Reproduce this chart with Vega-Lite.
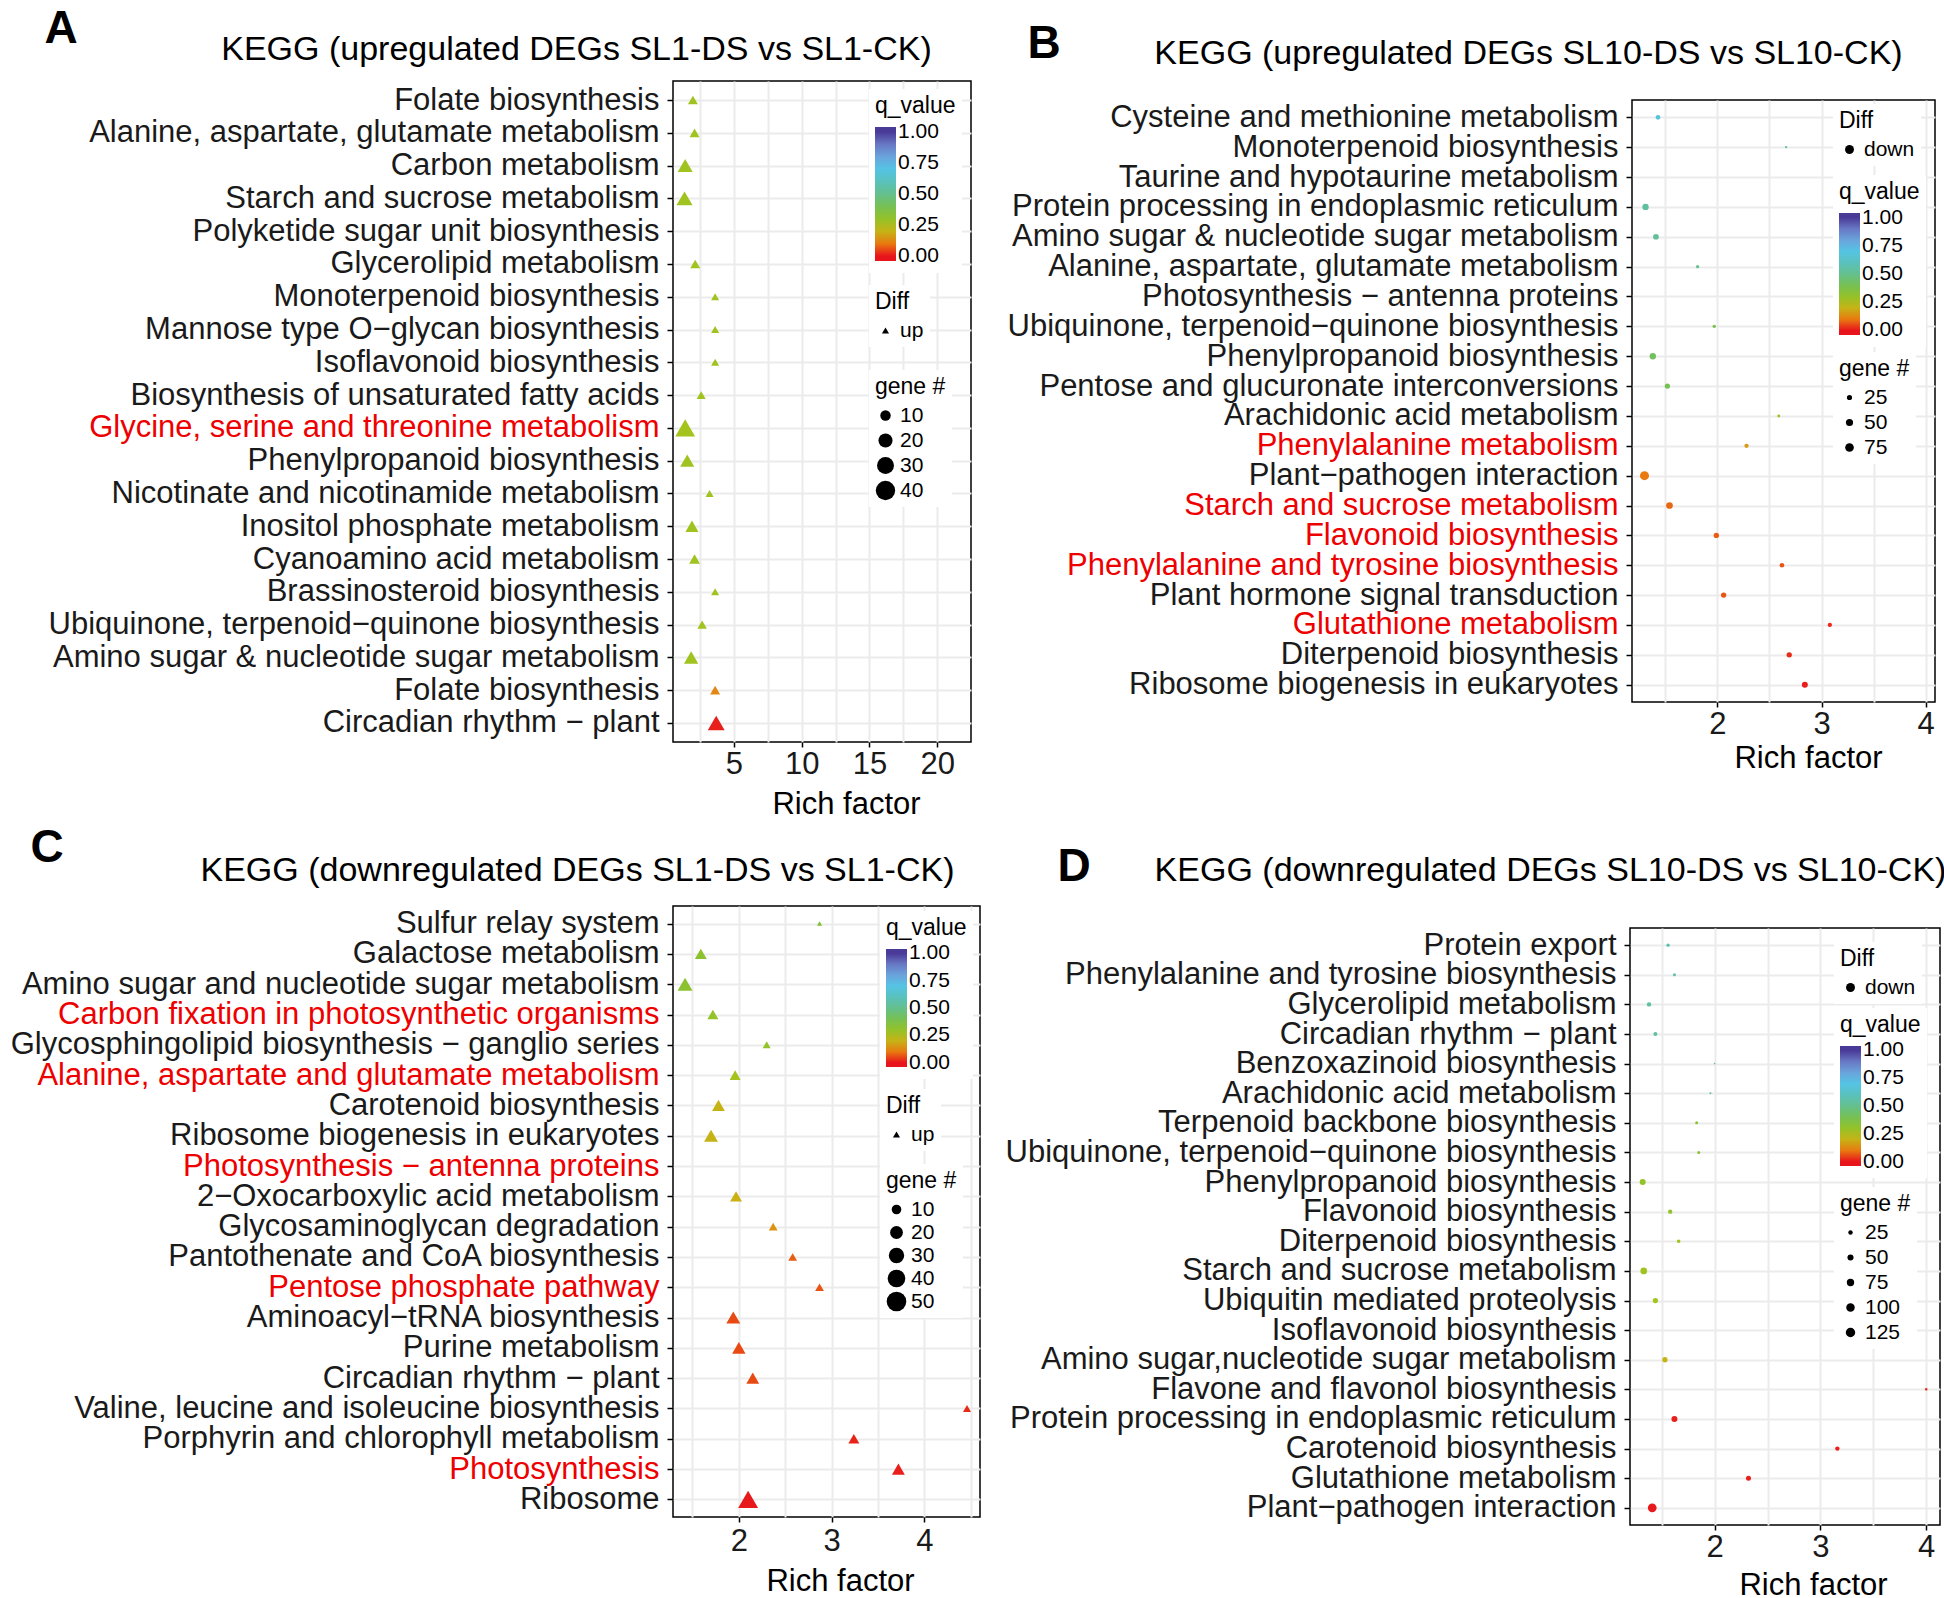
{
  "$schema": "https://vega.github.io/schema/vega-lite/v6.json",
  "background": "white",
  "padding": {"left": 2, "top": 0, "right": 0, "bottom": 0},
  "datasets": {
    "A": [
      {"pathway": "Folate biosynthesis", "rich": 1.97, "q": 0.27, "genes": 9, "diff": "up"},
      {"pathway": "Alanine, aspartate, glutamate metabolism", "rich": 2.09, "q": 0.27, "genes": 9, "diff": "up"},
      {"pathway": "Carbon metabolism", "rich": 1.40, "q": 0.27, "genes": 23, "diff": "up"},
      {"pathway": "Starch and sucrose metabolism", "rich": 1.35, "q": 0.27, "genes": 27, "diff": "up"},
      {"pathway": "Glycerolipid metabolism", "rich": 2.14, "q": 0.27, "genes": 9, "diff": "up"},
      {"pathway": "Monoterpenoid biosynthesis", "rich": 3.61, "q": 0.27, "genes": 5, "diff": "up"},
      {"pathway": "Mannose type O−glycan biosynthesis", "rich": 3.61, "q": 0.27, "genes": 5, "diff": "up"},
      {"pathway": "Isoflavonoid biosynthesis", "rich": 3.61, "q": 0.27, "genes": 5, "diff": "up"},
      {"pathway": "Biosynthesis of unsaturated fatty acids", "rich": 2.58, "q": 0.27, "genes": 7, "diff": "up"},
      {"pathway": "Glycine, serine and threonine metabolism", "rich": 1.40, "q": 0.26, "genes": 42, "diff": "up"},
      {"pathway": "Phenylpropanoid biosynthesis", "rich": 1.55, "q": 0.27, "genes": 20, "diff": "up"},
      {"pathway": "Nicotinate and nicotinamide metabolism", "rich": 3.2, "q": 0.27, "genes": 5, "diff": "up"},
      {"pathway": "Inositol phosphate metabolism", "rich": 1.90, "q": 0.27, "genes": 17, "diff": "up"},
      {"pathway": "Cyanoamino acid metabolism", "rich": 2.09, "q": 0.27, "genes": 11, "diff": "up"},
      {"pathway": "Brassinosteroid biosynthesis", "rich": 3.61, "q": 0.27, "genes": 5, "diff": "up"},
      {"pathway": "Ubiquinone, terpenoid−quinone biosynthesis", "rich": 2.65, "q": 0.27, "genes": 8, "diff": "up"},
      {"pathway": "Amino sugar & nucleotide sugar metabolism", "rich": 1.84, "q": 0.27, "genes": 21, "diff": "up"},
      {"pathway": "Folate biosynthesis ", "rich": 3.61, "q": 0.12, "genes": 9, "diff": "up"},
      {"pathway": "Circadian rhythm − plant", "rich": 3.69, "q": 0.01, "genes": 30, "diff": "up"}
    ],
    "B": [
      {"pathway": "Cysteine and methionine metabolism", "rich": 1.43, "q": 0.68, "genes": 20, "diff": "down"},
      {"pathway": "Monoterpenoid biosynthesis", "rich": 2.66, "q": 0.55, "genes": 3, "diff": "down"},
      {"pathway": "Taurine and hypotaurine metabolism", "rich": 3.97, "q": 0.55, "genes": 2, "diff": "down"},
      {"pathway": "Protein processing in endoplasmic reticulum", "rich": 1.31, "q": 0.53, "genes": 39, "diff": "down"},
      {"pathway": "Amino sugar & nucleotide sugar metabolism", "rich": 1.41, "q": 0.52, "genes": 31, "diff": "down"},
      {"pathway": "Alanine, aspartate, glutamate metabolism", "rich": 1.81, "q": 0.5, "genes": 9, "diff": "down"},
      {"pathway": "Ubiquinone, terpenoid−quinone biosynthesis", "rich": 1.97, "q": 0.38, "genes": 9, "diff": "down"},
      {"pathway": "Phenylpropanoid biosynthesis", "rich": 1.38, "q": 0.42, "genes": 39, "diff": "down"},
      {"pathway": "Pentose and glucuronate interconversions", "rich": 1.52, "q": 0.4, "genes": 27, "diff": "down"},
      {"pathway": "Arachidonic acid metabolism", "rich": 2.59, "q": 0.28, "genes": 7, "diff": "down"},
      {"pathway": "Phenylalanine metabolism", "rich": 2.28, "q": 0.15, "genes": 17, "diff": "down"},
      {"pathway": "Plant−pathogen interaction", "rich": 1.30, "q": 0.1, "genes": 81, "diff": "down"},
      {"pathway": "Starch and sucrose metabolism", "rich": 1.54, "q": 0.08, "genes": 44, "diff": "down"},
      {"pathway": "Flavonoid biosynthesis", "rich": 1.99, "q": 0.07, "genes": 27, "diff": "down"},
      {"pathway": "Phenylalanine and tyrosine biosynthesis", "rich": 2.62, "q": 0.06, "genes": 20, "diff": "down"},
      {"pathway": "Plant hormone signal transduction", "rich": 2.06, "q": 0.06, "genes": 27, "diff": "down"},
      {"pathway": "Glutathione metabolism", "rich": 3.08, "q": 0.02, "genes": 17, "diff": "down"},
      {"pathway": "Diterpenoid biosynthesis", "rich": 2.69, "q": 0.02, "genes": 27, "diff": "down"},
      {"pathway": "Ribosome biogenesis in eukaryotes", "rich": 2.84, "q": 0.01, "genes": 35, "diff": "down"}
    ],
    "C": [
      {"pathway": "Sulfur relay system", "rich": 2.87, "q": 0.35, "genes": 1, "diff": "up"},
      {"pathway": "Galactose metabolism", "rich": 1.59, "q": 0.32, "genes": 17, "diff": "up"},
      {"pathway": "Amino sugar and nucleotide sugar metabolism", "rich": 1.42, "q": 0.32, "genes": 28, "diff": "up"},
      {"pathway": "Carbon fixation in photosynthetic organisms", "rich": 1.72, "q": 0.3, "genes": 14, "diff": "up"},
      {"pathway": "Glycosphingolipid biosynthesis − ganglio series", "rich": 2.30, "q": 0.3, "genes": 6, "diff": "up"},
      {"pathway": "Alanine, aspartate and glutamate metabolism", "rich": 1.96, "q": 0.26, "genes": 14, "diff": "up"},
      {"pathway": "Carotenoid biosynthesis", "rich": 1.78, "q": 0.2, "genes": 20, "diff": "up"},
      {"pathway": "Ribosome biogenesis in eukaryotes", "rich": 1.70, "q": 0.2, "genes": 24, "diff": "up"},
      {"pathway": "Photosynthesis − antenna proteins", "rich": 3.58, "q": 0.2, "genes": 1, "diff": "up"},
      {"pathway": "2−Oxocarboxylic acid metabolism", "rich": 1.97, "q": 0.19, "genes": 17, "diff": "up"},
      {"pathway": "Glycosaminoglycan degradation", "rich": 2.37, "q": 0.14, "genes": 8, "diff": "up"},
      {"pathway": "Pantothenate and CoA biosynthesis", "rich": 2.58, "q": 0.07, "genes": 8, "diff": "up"},
      {"pathway": "Pentose phosphate pathway", "rich": 2.87, "q": 0.06, "genes": 8, "diff": "up"},
      {"pathway": "Aminoacyl−tRNA biosynthesis", "rich": 1.94, "q": 0.05, "genes": 24, "diff": "up"},
      {"pathway": "Purine metabolism", "rich": 2.00, "q": 0.05, "genes": 22, "diff": "up"},
      {"pathway": "Circadian rhythm − plant", "rich": 2.15, "q": 0.05, "genes": 20, "diff": "up"},
      {"pathway": "Valine, leucine and isoleucine biosynthesis", "rich": 4.46, "q": 0.02, "genes": 6, "diff": "up"},
      {"pathway": "Porphyrin and chlorophyll metabolism", "rich": 3.24, "q": 0.015, "genes": 14, "diff": "up"},
      {"pathway": "Photosynthesis", "rich": 3.72, "q": 0.01, "genes": 20, "diff": "up"},
      {"pathway": "Ribosome", "rich": 2.10, "q": 0.005, "genes": 52, "diff": "up"}
    ],
    "D": [
      {"pathway": "Protein export", "rich": 1.56, "q": 0.55, "genes": 13, "diff": "down"},
      {"pathway": "Phenylalanine and tyrosine biosynthesis", "rich": 1.62, "q": 0.55, "genes": 10, "diff": "down"},
      {"pathway": "Glycerolipid metabolism", "rich": 1.38, "q": 0.53, "genes": 24, "diff": "down"},
      {"pathway": "Circadian rhythm − plant", "rich": 1.44, "q": 0.53, "genes": 20, "diff": "down"},
      {"pathway": "Benzoxazinoid biosynthesis", "rich": 2.00, "q": 0.52, "genes": 1, "diff": "down"},
      {"pathway": "Arachidonic acid metabolism", "rich": 1.96, "q": 0.52, "genes": 3, "diff": "down"},
      {"pathway": "Terpenoid backbone biosynthesis", "rich": 1.83, "q": 0.33, "genes": 10, "diff": "down"},
      {"pathway": "Ubiquinone, terpenoid−quinone biosynthesis", "rich": 1.85, "q": 0.33, "genes": 10, "diff": "down"},
      {"pathway": "Phenylpropanoid biosynthesis", "rich": 1.32, "q": 0.3, "genes": 49, "diff": "down"},
      {"pathway": "Flavonoid biosynthesis", "rich": 1.58, "q": 0.3, "genes": 24, "diff": "down"},
      {"pathway": "Diterpenoid biosynthesis", "rich": 1.66, "q": 0.27, "genes": 16, "diff": "down"},
      {"pathway": "Starch and sucrose metabolism", "rich": 1.33, "q": 0.27, "genes": 61, "diff": "down"},
      {"pathway": "Ubiquitin mediated proteolysis", "rich": 1.44, "q": 0.26, "genes": 37, "diff": "down"},
      {"pathway": "Amino sugar,nucleotide sugar metabolism", "rich": 1.53, "q": 0.2, "genes": 37, "diff": "down"},
      {"pathway": "Flavone and flavonol biosynthesis", "rich": 4.00, "q": 0.02, "genes": 7, "diff": "down"},
      {"pathway": "Protein processing in endoplasmic reticulum", "rich": 1.62, "q": 0.01, "genes": 49, "diff": "down"},
      {"pathway": "Carotenoid biosynthesis", "rich": 3.16, "q": 0.01, "genes": 24, "diff": "down"},
      {"pathway": "Glutathione metabolism", "rich": 2.32, "q": 0.01, "genes": 33, "diff": "down"},
      {"pathway": "Plant−pathogen interaction", "rich": 1.41, "q": 0.005, "genes": 106, "diff": "down"}
    ]
  },
  "concat": [
    {"data": {"values": []}, "mark": {"type": "point", "opacity": 0}, "width": 1, "height": 1, "view": {"stroke": null}},
    {"data": {"values": []}, "mark": {"type": "point", "opacity": 0}, "width": 1, "height": 1, "view": {"stroke": null}},
    {
      "data": {"name": "A"},
      "width": 298,
      "height": 661,
      "layer": [
        {
          "mark": {"type": "point", "filled": true, "opacity": 1},
          "encoding": {
            "y": {
              "field": "pathway", "type": "nominal",
              "scale": {"type": "point", "padding": 0.58, "domain": ["Folate biosynthesis", "Alanine, aspartate, glutamate metabolism", "Carbon metabolism", "Starch and sucrose metabolism", "Polyketide sugar unit biosynthesis", "Glycerolipid metabolism", "Monoterpenoid biosynthesis", "Mannose type O−glycan biosynthesis", "Isoflavonoid biosynthesis", "Biosynthesis of unsaturated fatty acids", "Glycine, serine and threonine metabolism", "Phenylpropanoid biosynthesis", "Nicotinate and nicotinamide metabolism", "Inositol phosphate metabolism", "Cyanoamino acid metabolism", "Brassinosteroid biosynthesis", "Ubiquinone, terpenoid−quinone biosynthesis", "Amino sugar & nucleotide sugar metabolism", "Folate biosynthesis ", "Circadian rhythm − plant"]},
              "axis": {
                "title": "A", "titleX": -629, "titleY": -75, "titleAngle": 0, "titleAlign": "left", "titleBaseline": "top",
                "titleFontSize": 46, "titleFontWeight": "bold",
                "minExtent": 670, "maxExtent": 670,
                "labelFontSize": 31, "labelLimit": 1000, "labelPadding": 8, "labelOverlap": false, "tickSize": 6,
                "domain": false, "grid": true,
                "labelColor": {"condition": {"test": "indexof(['Glycine, serine and threonine metabolism'], datum.value) >= 0", "value": "#ee0000"}, "value": "#1a1a1a"}
              }
            },
            "x": {
              "field": "rich", "type": "quantitative",
              "scale": {"domain": [0.5, 22.5], "nice": false, "zero": false},
              "axis": {
                "title": "Rich factor", "titleX": 173, "titleY": 71, "titleAlign": "center", "titleBaseline": "alphabetic",
                "titleFontSize": 31, "titleFontWeight": "normal",
                "values": [2.5, 5, 7.5, 10, 12.5, 15, 17.5, 20],
                "labelExpr": "datum.value % 5 === 0 ? format(datum.value, 'd') : ''",
                "labelFontSize": 31, "labelFlush": false, "labelOverlap": false, "labelPadding": 2, "tickSize": 5,
                "tickColor": {"condition": {"test": "datum.value % 5 !== 0", "value": "transparent"}, "value": "black"},
                "domain": false, "grid": true
              }
            },
            "color": {
              "field": "q", "type": "quantitative",
              "scale": {"type": "linear", "domain": [-0.04, 0, 0.05, 0.1, 0.18, 0.25, 0.35, 0.45, 0.55, 0.7, 0.8, 0.9, 1, 1.04], "range": ["#e8141c", "#e8141c", "#e84a14", "#e87a10", "#d0ac14", "#a8c41a", "#80c038", "#6cc070", "#5cc0aa", "#55c4e4", "#6aa4dc", "#6878c4", "#4a3a98", "#4a3a98"], "interpolate": "rgb"},
              "legend": {"orient": "none", "legendX": 196, "legendY": 8, "title": "q_value", "direction": "vertical", "gradientLength": 134, "gradientThickness": 21, "values": [0, 0.25, 0.5, 0.75, 1], "format": ".2f", "padding": 6, "fillColor": "white", "titlePadding": 9}
            },
            "size": {
              "field": "genes", "type": "quantitative",
              "scale": {"domain": [0, 45], "range": [20, 420]},
              "legend": {"orient": "none", "legendX": 196, "legendY": 289, "title": "gene #", "values": [10, 20, 30, 40], "padding": 6, "fillColor": "white", "titlePadding": 6, "rowPadding": 3}
            },
            "shape": {
              "field": "diff", "type": "nominal",
              "scale": {"domain": ["up"], "range": ["triangle-up"]},
              "legend": {"orient": "none", "legendX": 196, "legendY": 204, "title": "Diff", "padding": 6, "fillColor": "white", "symbolSize": 50, "titlePadding": 6}
            }
          }
        },
        {
          "mark": {"type": "point", "opacity": 0},
          "encoding": {
            "x": {
              "field": "rich", "type": "quantitative",
              "scale": {"domain": [0.5, 22.5], "nice": false, "zero": false},
              "axis": {"orient": "top", "title": "KEGG (upregulated DEGs SL1-DS vs SL1-CK)", "titleX": -97, "titleY": -22, "titleAlign": "center", "titleBaseline": "alphabetic", "titleFontSize": 34, "titleFontWeight": "normal", "labels": false, "ticks": false, "domain": false, "grid": false}
            }
          }
        }
      ],
      "resolve": {"axis": {"x": "independent"}}
    },
    {
      "data": {"name": "B"},
      "width": 303,
      "height": 602,
      "layer": [
        {
          "mark": {"type": "point", "filled": true, "opacity": 1},
          "encoding": {
            "y": {
              "field": "pathway", "type": "nominal",
              "scale": {"type": "point", "padding": 0.58, "domain": ["Cysteine and methionine metabolism", "Monoterpenoid biosynthesis", "Taurine and hypotaurine metabolism", "Protein processing in endoplasmic reticulum", "Amino sugar & nucleotide sugar metabolism", "Alanine, aspartate, glutamate metabolism", "Photosynthesis − antenna proteins", "Ubiquinone, terpenoid−quinone biosynthesis", "Phenylpropanoid biosynthesis", "Pentose and glucuronate interconversions", "Arachidonic acid metabolism", "Phenylalanine metabolism", "Plant−pathogen interaction", "Starch and sucrose metabolism", "Flavonoid biosynthesis", "Phenylalanine and tyrosine biosynthesis", "Plant hormone signal transduction", "Glutathione metabolism", "Diterpenoid biosynthesis", "Ribosome biogenesis in eukaryotes"]},
              "axis": {
                "title": ["", "B"], "titleX": -605, "titleY": -94, "titleAngle": 0, "titleAlign": "left", "titleBaseline": "top", "titleLineHeight": 15,
                "titleFontSize": 46, "titleFontWeight": "bold",
                "minExtent": 640, "maxExtent": 640,
                "labelFontSize": 31, "labelLimit": 1000, "labelPadding": 8, "labelOverlap": false, "tickSize": 6,
                "domain": false, "grid": true,
                "labelColor": {"condition": {"test": "indexof(['Phenylalanine metabolism', 'Starch and sucrose metabolism', 'Flavonoid biosynthesis', 'Phenylalanine and tyrosine biosynthesis', 'Glutathione metabolism'], datum.value) >= 0", "value": "#ee0000"}, "value": "#1a1a1a"}
              }
            },
            "x": {
              "field": "rich", "type": "quantitative",
              "scale": {"domain": [1.18, 4.09], "nice": false, "zero": false},
              "axis": {
                "title": "Rich factor", "titleX": 176, "titleY": 65, "titleAlign": "center", "titleBaseline": "alphabetic",
                "titleFontSize": 31, "titleFontWeight": "normal",
                "values": [1.5, 2, 2.5, 3, 3.5, 4],
                "labelExpr": "datum.value % 1 === 0 ? format(datum.value, 'd') : ''",
                "labelFontSize": 31, "labelFlush": false, "labelOverlap": false, "labelPadding": 2, "tickSize": 5,
                "tickColor": {"condition": {"test": "datum.value % 1 !== 0", "value": "transparent"}, "value": "black"},
                "domain": false, "grid": true
              }
            },
            "color": {
              "field": "q", "type": "quantitative",
              "scale": {"type": "linear", "domain": [-0.04, 0, 0.05, 0.1, 0.18, 0.25, 0.35, 0.45, 0.55, 0.7, 0.8, 0.9, 1, 1.04], "range": ["#e8141c", "#e8141c", "#e84a14", "#e87a10", "#d0ac14", "#a8c41a", "#80c038", "#6cc070", "#5cc0aa", "#55c4e4", "#6aa4dc", "#6878c4", "#4a3a98", "#4a3a98"], "interpolate": "rgb"},
              "legend": {"orient": "none", "legendX": 201, "legendY": 75, "title": "q_value", "direction": "vertical", "gradientLength": 122, "gradientThickness": 21, "values": [0, 0.25, 0.5, 0.75, 1], "format": ".2f", "padding": 6, "fillColor": "white", "titlePadding": 9}
            },
            "size": {
              "field": "genes", "type": "quantitative",
              "scale": {"domain": [0, 100], "range": [2, 100]},
              "legend": {"orient": "none", "legendX": 201, "legendY": 252, "title": "gene #", "values": [25, 50, 75], "padding": 6, "fillColor": "white", "titlePadding": 6, "rowPadding": 3}
            },
            "shape": {
              "field": "diff", "type": "nominal",
              "scale": {"domain": ["down"], "range": ["circle"]},
              "legend": {"orient": "none", "legendX": 201, "legendY": 4, "title": "Diff", "padding": 6, "fillColor": "white", "symbolSize": 80, "titlePadding": 6}
            }
          }
        },
        {
          "mark": {"type": "point", "opacity": 0},
          "encoding": {
            "x": {
              "field": "rich", "type": "quantitative",
              "scale": {"domain": [1.18, 4.09], "nice": false, "zero": false},
              "axis": {"orient": "top", "title": "KEGG (upregulated DEGs SL10-DS vs SL10-CK)", "titleX": -104, "titleY": -37, "titleAlign": "center", "titleBaseline": "alphabetic", "titleFontSize": 34, "titleFontWeight": "normal", "labels": false, "ticks": false, "domain": false, "grid": false}
            }
          }
        }
      ],
      "resolve": {"axis": {"x": "independent"}}
    },
    {
      "data": {"name": "C"},
      "width": 307,
      "height": 611,
      "layer": [
        {
          "mark": {"type": "point", "filled": true, "opacity": 1},
          "encoding": {
            "y": {
              "field": "pathway", "type": "nominal",
              "scale": {"type": "point", "padding": 0.58, "domain": ["Sulfur relay system", "Galactose metabolism", "Amino sugar and nucleotide sugar metabolism", "Carbon fixation in photosynthetic organisms", "Glycosphingolipid biosynthesis − ganglio series", "Alanine, aspartate and glutamate metabolism", "Carotenoid biosynthesis", "Ribosome biogenesis in eukaryotes", "Photosynthesis − antenna proteins", "2−Oxocarboxylic acid metabolism", "Glycosaminoglycan degradation", "Pantothenate and CoA biosynthesis", "Pentose phosphate pathway", "Aminoacyl−tRNA biosynthesis", "Purine metabolism", "Circadian rhythm − plant", "Valine, leucine and isoleucine biosynthesis", "Porphyrin and chlorophyll metabolism", "Photosynthesis", "Ribosome"]},
              "axis": {
                "title": "C", "titleX": -643, "titleY": -81, "titleAngle": 0, "titleAlign": "left", "titleBaseline": "top",
                "titleFontSize": 46, "titleFontWeight": "bold",
                "minExtent": 668, "maxExtent": 668,
                "labelFontSize": 31, "labelLimit": 1000, "labelPadding": 8, "labelOverlap": false, "tickSize": 6,
                "domain": false, "grid": true,
                "labelColor": {"condition": {"test": "indexof(['Carbon fixation in photosynthetic organisms', 'Alanine, aspartate and glutamate metabolism', 'Photosynthesis − antenna proteins', 'Pentose phosphate pathway', 'Photosynthesis'], datum.value) >= 0", "value": "#ee0000"}, "value": "#1a1a1a"}
              }
            },
            "x": {
              "field": "rich", "type": "quantitative",
              "scale": {"domain": [1.29, 4.6], "nice": false, "zero": false},
              "axis": {
                "title": "Rich factor", "titleX": 167, "titleY": 73, "titleAlign": "center", "titleBaseline": "alphabetic",
                "titleFontSize": 31, "titleFontWeight": "normal",
                "values": [1.5, 2, 2.5, 3, 3.5, 4, 4.5],
                "labelExpr": "datum.value % 1 === 0 ? format(datum.value, 'd') : ''",
                "labelFontSize": 31, "labelFlush": false, "labelOverlap": false, "labelPadding": 4, "tickSize": 5,
                "tickColor": {"condition": {"test": "datum.value % 1 !== 0", "value": "transparent"}, "value": "black"},
                "domain": false, "grid": true
              }
            },
            "color": {
              "field": "q", "type": "quantitative",
              "scale": {"type": "linear", "domain": [-0.04, 0, 0.05, 0.1, 0.18, 0.25, 0.35, 0.45, 0.55, 0.7, 0.8, 0.9, 1, 1.04], "range": ["#e8141c", "#e8141c", "#e84a14", "#e87a10", "#d0ac14", "#a8c41a", "#80c038", "#6cc070", "#5cc0aa", "#55c4e4", "#6aa4dc", "#6878c4", "#4a3a98", "#4a3a98"], "interpolate": "rgb"},
              "legend": {"orient": "none", "legendX": 207, "legendY": 5, "title": "q_value", "direction": "vertical", "gradientLength": 118, "gradientThickness": 21, "values": [0, 0.25, 0.5, 0.75, 1], "format": ".2f", "padding": 6, "fillColor": "white", "titlePadding": 9}
            },
            "size": {
              "field": "genes", "type": "quantitative",
              "scale": {"domain": [0, 55], "range": [20, 420]},
              "legend": {"orient": "none", "legendX": 207, "legendY": 258, "title": "gene #", "values": [10, 20, 30, 40, 50], "padding": 6, "fillColor": "white", "titlePadding": 6, "rowPadding": 1}
            },
            "shape": {
              "field": "diff", "type": "nominal",
              "scale": {"domain": ["up"], "range": ["triangle-up"]},
              "legend": {"orient": "none", "legendX": 207, "legendY": 183, "title": "Diff", "padding": 6, "fillColor": "white", "symbolSize": 50, "titlePadding": 6}
            }
          }
        },
        {
          "mark": {"type": "point", "opacity": 0},
          "encoding": {
            "x": {
              "field": "rich", "type": "quantitative",
              "scale": {"domain": [1.29, 4.6], "nice": false, "zero": false},
              "axis": {"orient": "top", "title": "KEGG (downregulated DEGs SL1-DS vs SL1-CK)", "titleX": -96, "titleY": -26, "titleAlign": "center", "titleBaseline": "alphabetic", "titleFontSize": 34, "titleFontWeight": "normal", "labels": false, "ticks": false, "domain": false, "grid": false}
            }
          }
        }
      ],
      "resolve": {"axis": {"x": "independent"}}
    },
    {
      "data": {"name": "D"},
      "width": 310,
      "height": 597,
      "layer": [
        {
          "mark": {"type": "point", "filled": true, "opacity": 1},
          "encoding": {
            "y": {
              "field": "pathway", "type": "nominal",
              "scale": {"type": "point", "padding": 0.58, "domain": ["Protein export", "Phenylalanine and tyrosine biosynthesis", "Glycerolipid metabolism", "Circadian rhythm − plant", "Benzoxazinoid biosynthesis", "Arachidonic acid metabolism", "Terpenoid backbone biosynthesis", "Ubiquinone, terpenoid−quinone biosynthesis", "Phenylpropanoid biosynthesis", "Flavonoid biosynthesis", "Diterpenoid biosynthesis", "Starch and sucrose metabolism", "Ubiquitin mediated proteolysis", "Isoflavonoid biosynthesis", "Amino sugar,nucleotide sugar metabolism", "Flavone and flavonol biosynthesis", "Protein processing in endoplasmic reticulum", "Carotenoid biosynthesis", "Glutathione metabolism", "Plant−pathogen interaction"]},
              "axis": {
                "title": "D", "titleX": -573, "titleY": -84, "titleAngle": 0, "titleAlign": "left", "titleBaseline": "top",
                "titleFontSize": 46, "titleFontWeight": "bold",
                "minExtent": 638, "maxExtent": 638,
                "labelFontSize": 31, "labelLimit": 1000, "labelPadding": 8, "labelOverlap": false, "tickSize": 6,
                "domain": false, "grid": true,
                "labelColor": "#1a1a1a"
              }
            },
            "x": {
              "field": "rich", "type": "quantitative",
              "scale": {"domain": [1.2, 4.13], "nice": false, "zero": false},
              "axis": {
                "title": "Rich factor", "titleX": 183, "titleY": 69, "titleAlign": "center", "titleBaseline": "alphabetic",
                "titleFontSize": 31, "titleFontWeight": "normal",
                "values": [1.5, 2, 2.5, 3, 3.5, 4],
                "labelExpr": "datum.value % 1 === 0 ? format(datum.value, 'd') : ''",
                "labelFontSize": 31, "labelFlush": false, "labelOverlap": false, "labelPadding": 2, "tickSize": 5,
                "tickColor": {"condition": {"test": "datum.value % 1 !== 0", "value": "transparent"}, "value": "black"},
                "domain": false, "grid": true
              }
            },
            "color": {
              "field": "q", "type": "quantitative",
              "scale": {"type": "linear", "domain": [-0.04, 0, 0.05, 0.1, 0.18, 0.25, 0.35, 0.45, 0.55, 0.7, 0.8, 0.9, 1, 1.04], "range": ["#e8141c", "#e8141c", "#e84a14", "#e87a10", "#d0ac14", "#a8c41a", "#80c038", "#6cc070", "#5cc0aa", "#55c4e4", "#6aa4dc", "#6878c4", "#4a3a98", "#4a3a98"], "interpolate": "rgb"},
              "legend": {"orient": "none", "legendX": 204, "legendY": 80, "title": "q_value", "direction": "vertical", "gradientLength": 120, "gradientThickness": 21, "values": [0, 0.25, 0.5, 0.75, 1], "format": ".2f", "padding": 6, "fillColor": "white", "titlePadding": 9}
            },
            "size": {
              "field": "genes", "type": "quantitative",
              "scale": {"domain": [0, 140], "range": [2, 100]},
              "legend": {"orient": "none", "legendX": 204, "legendY": 259, "title": "gene #", "values": [25, 50, 75, 100, 125], "padding": 6, "fillColor": "white", "titlePadding": 6, "rowPadding": 3}
            },
            "shape": {
              "field": "diff", "type": "nominal",
              "scale": {"domain": ["down"], "range": ["circle"]},
              "legend": {"orient": "none", "legendX": 204, "legendY": 14, "title": "Diff", "padding": 6, "fillColor": "white", "symbolSize": 80, "titlePadding": 6}
            }
          }
        },
        {
          "mark": {"type": "point", "opacity": 0},
          "encoding": {
            "x": {
              "field": "rich", "type": "quantitative",
              "scale": {"domain": [1.2, 4.13], "nice": false, "zero": false},
              "axis": {"orient": "top", "title": "KEGG (downregulated DEGs SL10-DS vs SL10-CK)", "titleX": -80, "titleY": -48, "titleAlign": "center", "titleBaseline": "alphabetic", "titleFontSize": 34, "titleFontWeight": "normal", "labels": false, "ticks": false, "domain": false, "grid": false}
            }
          }
        }
      ],
      "resolve": {"axis": {"x": "independent"}}
    }
  ],
  "columns": 2,
  "align": "none",
  "spacing": {"row": 3, "column": 10},
  "resolve": {
    "scale": {"x": "independent", "y": "independent", "color": "independent", "size": "independent", "shape": "independent"},
    "legend": {"color": "independent", "size": "independent", "shape": "independent"}
  },
  "config": {
    "font": "Liberation Sans",
    "view": {"stroke": "black", "strokeWidth": 1.5},
    "axis": {"gridColor": "#ebebeb", "gridWidth": 2, "tickColor": "black", "tickWidth": 1.5, "labelColor": "#1a1a1a", "titleColor": "black", "labelFont": "Liberation Sans", "titleFont": "Liberation Sans"},
    "legend": {"titleFontSize": 23, "labelFontSize": 21, "titleFontWeight": "normal", "titleColor": "black", "labelColor": "black", "symbolBaseFillColor": "black", "symbolStrokeWidth": 0, "labelOverlap": false, "titleLimit": 300, "labelLimit": 300, "titleFont": "Liberation Sans", "labelFont": "Liberation Sans"}
  }
}
